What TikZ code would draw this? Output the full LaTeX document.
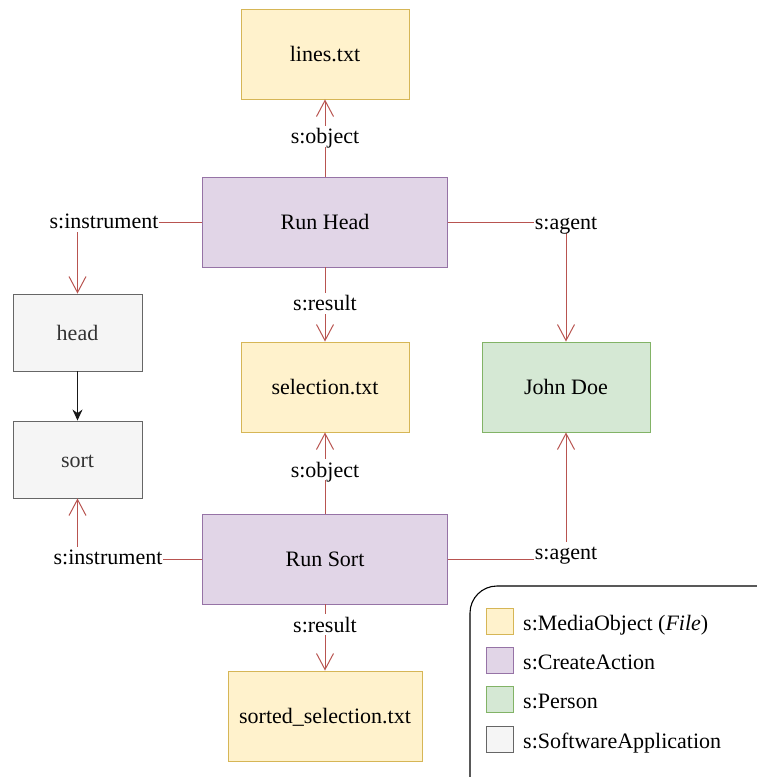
\documentclass[tikz,border=0pt]{standalone}
\usepackage{fontspec}
\setmainfont{Liberation Serif}
\usetikzlibrary{arrows.meta}
\definecolor{yfill}{HTML}{FFF2CC}
\definecolor{ydraw}{HTML}{D6B656}
\definecolor{pfill}{HTML}{E1D5E7}
\definecolor{pdraw}{HTML}{9673A6}
\definecolor{gfill}{HTML}{D5E8D4}
\definecolor{gdraw}{HTML}{82B366}
\definecolor{sfill}{HTML}{F5F5F5}
\definecolor{sdraw}{HTML}{666666}
\definecolor{stext}{HTML}{333333}
\definecolor{redline}{HTML}{B85450}
\tikzset{
  txt/.style={text height=17pt, text depth=2pt},
  box/.style={draw, line width=0.9pt, inner sep=0pt, align=center, txt},
  filebox/.style={box, fill=yfill, draw=ydraw, minimum height=90pt},
  actionbox/.style={box, fill=pfill, draw=pdraw, minimum width=245pt, minimum height=90pt},
  personbox/.style={box, fill=gfill, draw=gdraw, minimum width=168pt, minimum height=90pt},
  softbox/.style={box, fill=sfill, draw=sdraw, text=stext, minimum width=129pt, minimum height=77pt},
  rel/.style={draw=redline, line width=1pt, -{Straight Barb[length=16pt,width=17pt,line width=1pt]}},
  flow/.style={draw=black!90, line width=1.4pt, -{Stealth[length=11pt,width=10pt]}},
  lab/.style={fill=white, inner sep=1pt, txt},
  swatch/.style={draw, line width=0.9pt, minimum width=27pt, minimum height=26pt, inner sep=0pt},
  legtext/.style={anchor=west, inner sep=0pt, txt},
}
\begin{document}
\begin{tikzpicture}[x=1pt,y=-1pt,font=\fontsize{22}{26}\selectfont]
\useasboundingbox (0,0) rectangle (757,777);
% nodes
\node[filebox, minimum width=168pt] (lines) at (325,54) {lines.txt};
\node[actionbox] (rh) at (325,222) {Run Head};
\node[softbox] (head) at (77.5,332.5) {head};
\node[filebox, minimum width=168pt] (sel) at (325,387) {selection.txt};
\node[personbox] (jd) at (566,387) {John Doe};
\node[softbox] (sort) at (77.5,459.5) {sort};
\node[actionbox] (rs) at (325,559) {Run Sort};
\node[filebox, minimum width=194pt] (sorted) at (325,716) {sorted\_selection.txt};
% connectors
\draw[rel] (rh.north) -- node[lab, pos=0.52] (l1) {s:object} (lines.south);
\draw[rel] (rh.south) -- node[lab, pos=0.48] (l2) {s:result} (sel.north);
\draw[rel] (rh.west) -| (head.north);
\node[lab] (l3) at (104,221) {s:instrument};
\draw[rel] (rh.east) -| (jd.north);
\node[lab] (l4) at (566,222) {s:agent};
\draw[flow] (head.south) -- (sort.north);
\draw[rel] (rs.north) -- node[lab, pos=0.54] (l5) {s:object} (sel.south);
\draw[rel] (rs.west) -| (sort.south);
\node[lab] (l6) at (108,557) {s:instrument};
\draw[rel] (rs.east) -| (jd.south);
\node[lab] (l7) at (566,552) {s:agent};
\draw[rel] (rs.south) -- node[lab, pos=0.31] (l8) {s:result} (sorted.north);
% legend
\begin{scope}
\clip (0,0) rectangle (757,777);
\draw[line width=1.1pt, rounded corners=27pt] (470,586) rectangle (800,812);
\end{scope}
\node[swatch, fill=yfill, draw=ydraw] (k1) at (499.5,621) {};
\node[swatch, fill=pfill, draw=pdraw] (k2) at (499.5,660) {};
\node[swatch, fill=gfill, draw=gdraw] (k3) at (499.5,699) {};
\node[swatch, fill=sfill, draw=sdraw] (k4) at (499.5,739) {};
\node[legtext] (t1) at (523,623) {s:MediaObject (\textit{File})};
\node[legtext] (t2) at (523,662) {s:CreateAction};
\node[legtext] (t3) at (523,701) {s:Person};
\node[legtext] (t4) at (523,741) {s:SoftwareApplication};
\end{tikzpicture}
\end{document}
